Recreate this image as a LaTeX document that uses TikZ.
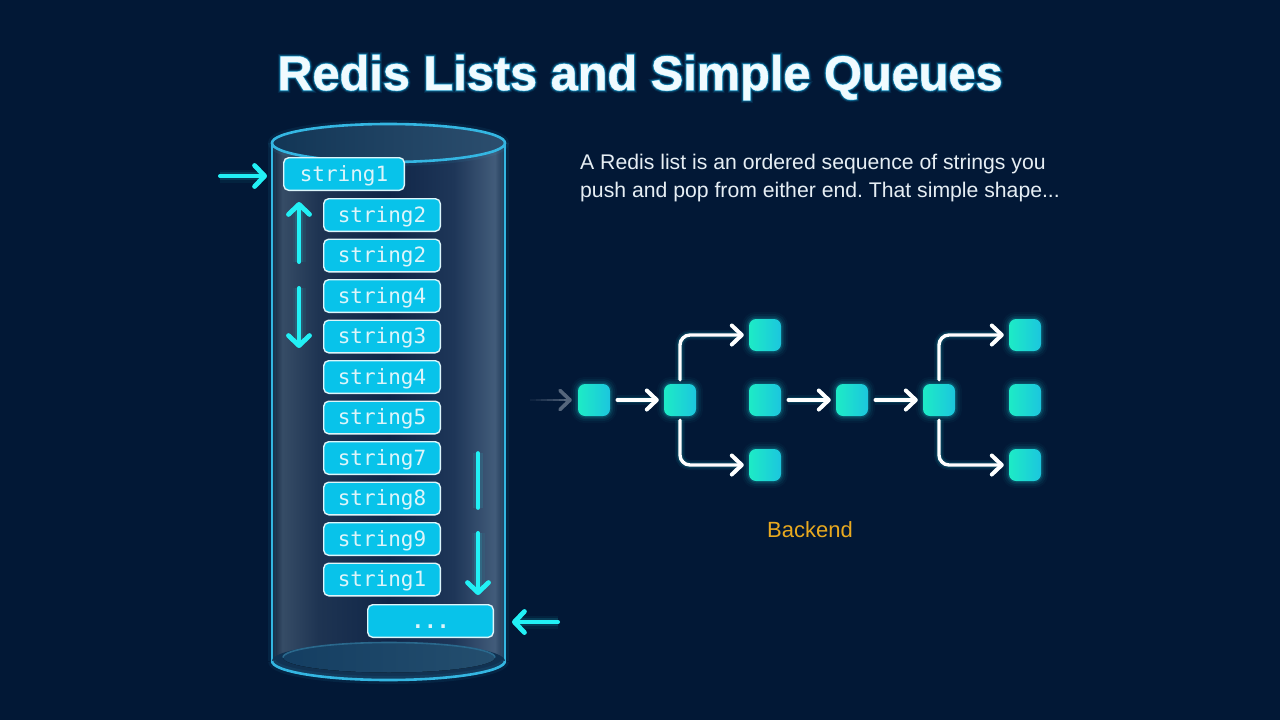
\documentclass[tikz,border=0pt]{standalone}
\usepackage{fontspec}
\setmainfont{Liberation Sans}
\newfontfamily\titlefont{Liberation Sans Bold}[FakeBold=0.2]
\newfontfamily\titleglowa{Liberation Sans Bold}[FakeBold=1.5]
\newfontfamily\titleglowb{Liberation Sans Bold}[FakeBold=3]
\newfontfamily\titleglowc{Liberation Sans Bold}[FakeBold=5]
\newfontfamily\titleglowd{Liberation Sans Bold}[FakeBold=7.5]
\newfontfamily\titleglowe{Liberation Sans Bold}[FakeBold=11]
\newfontfamily\codefont{DejaVu Sans Mono}
\usetikzlibrary{arrows.meta,calc}

\definecolor{pagemid}{HTML}{021836}
\definecolor{cyanline}{HTML}{22F0F5}
\definecolor{glasslip}{HTML}{34B6E2}
\definecolor{cellfill}{HTML}{08C3EA}
\definecolor{cellline}{HTML}{DDF5FA}
\definecolor{nodeleft}{HTML}{1DEBC6}
\definecolor{noderight}{HTML}{1CC6DE}
\definecolor{amberlabel}{HTML}{E9A91F}
\definecolor{bodytext}{HTML}{E6EEF4}
\definecolor{titleglow}{HTML}{18B4E8}
\definecolor{fadegrey}{HTML}{55667C}
\definecolor{glassA}{RGB}{16,34,60}
\definecolor{glassB}{RGB}{54,76,102}
\definecolor{glassC}{RGB}{30,52,82}
\definecolor{glassD}{RGB}{16,38,72}
\definecolor{glassE}{RGB}{30,54,88}
\definecolor{glassF}{RGB}{66,92,122}
\definecolor{glassG}{RGB}{26,52,82}
\definecolor{lidleft}{RGB}{18,54,86}
\definecolor{lidright}{RGB}{44,78,110}
\definecolor{floorfill}{RGB}{17,50,82}
\definecolor{floorline}{RGB}{42,104,140}
\definecolor{floorleft}{RGB}{20,62,98}
\definecolor{floorright}{RGB}{36,78,110}

% Glass cylinder body, lit along both edges
\pgfdeclarehorizontalshading{glassbody}{100bp}{
  color(0bp)=(glassA);
  color(25bp)=(glassA);
  color(27.2bp)=(glassB);
  color(35bp)=(glassC);
  color(50bp)=(glassD);
  color(64bp)=(glassE);
  color(72.8bp)=(glassF);
  color(75bp)=(glassG);
  color(100bp)=(glassG)}

\tikzset{
  x=1pt,y=-1pt,
  cell/.style={draw=cellline,fill=cellfill,line width=1.4pt,rounded corners=5pt,
    minimum height=32.6pt,inner sep=0pt,text=cellline,text height=17pt,text depth=3pt,
    font=\codefont\fontsize{21}{21}\selectfont},
  wide/.style={cell,minimum width=116.6pt},
  flownode/.style={rounded corners=7pt,minimum width=32pt,minimum height=32pt,inner sep=0pt,
    left color=nodeleft,right color=noderight,
    preaction={draw=cyanline,line width=14pt,opacity=.03},
    preaction={draw=cyanline,line width=10pt,opacity=.05},
    preaction={draw=cyanline,line width=6pt,opacity=.08},
    preaction={draw=cyanline,line width=3pt,opacity=.12}},
  cyanarrow/.style={draw=cyanline,line width=4pt,line cap=round,line join=round,
    -{Straight Barb[length=10pt,width=21pt,line width=4.8pt,round]},
    preaction={draw=cyanline,line width=13pt,opacity=.05},
    preaction={draw=cyanline,line width=8pt,opacity=.12}},
  cyanbar/.style={draw=cyanline,line width=3.6pt,line cap=round,
    preaction={draw=cyanline,line width=10pt,opacity=.10}},
  whitearrow/.style={draw=white,line width=3.4pt,line cap=round,line join=round,rounded corners=10pt,
    -{Straight Barb[length=10pt,width=19pt,line width=4pt,round]},
    preaction={draw=cyanline,line width=10pt,opacity=.06},
    preaction={draw=cyanline,line width=6.5pt,opacity=.12}},
  fadetip/.style={draw=fadegrey,line width=3pt,line cap=round,line join=round,
    -{Straight Barb[length=10pt,width=19pt,line width=3.6pt,round]}},
  glasswall/.style={draw=glasslip,line width=2.4pt,
    preaction={draw=glasslip,line width=8pt,opacity=.08}},
  titletext/.style={inner sep=0pt,font=\fontsize{48.7}{48.7}\selectfont},
  bodyline/.style={anchor=base west,inner sep=0pt,text=bodytext,font=\fontsize{21.2}{21.2}\selectfont},
}

\begin{document}
\frenchspacing
\begin{tikzpicture}
\useasboundingbox (0,0) rectangle (1280,720);
\fill[pagemid] (0,0) rectangle (1280,720);

% Title with a layered glow
\node[titletext,text=titleglow,text opacity=.10] at (640,77.5) {\titleglowe Redis Lists and Simple Queues};
\node[titletext,text=titleglow,text opacity=.16] at (640,77.5) {\titleglowd Redis Lists and Simple Queues};
\node[titletext,text=titleglow,text opacity=.26] at (640,77.5) {\titleglowc Redis Lists and Simple Queues};
\node[titletext,text=titleglow,text opacity=.45] at (640,77.5) {\titleglowb Redis Lists and Simple Queues};
\node[titletext,text=cyan!50!white,text opacity=.6] at (640,77.5) {\titleglowa Redis Lists and Simple Queues};
\node[titletext,text=white!94!cyan] (heading) at (640,77.5) {\titlefont Redis Lists and Simple Queues};

% Cylinder
\shade[shading=glassbody] (272,143) rectangle (505,661);
\draw[glasswall] (272,143) -- (272,661);
\draw[glasswall] (505,143) -- (505,661);
\draw[glasswall,line width=2.6pt,left color=lidleft,right color=lidright]
  (388.5,143) ellipse (116.5 and 19);
\fill[floorfill] (388.5,661) ellipse (116.5 and 19);
\fill[left color=floorleft,right color=floorright] (389,657.5) ellipse (106 and 15);
\draw[floorline,line width=1.6pt] (283,657.5) arc[start angle=180,end angle=360,x radius=106,y radius=15];
\draw[glasswall,line width=2.6pt] (272,661) arc[start angle=180,end angle=0,x radius=116.5,y radius=19];

% List cells
\node[cell,minimum width=120.6pt] (head) at (344,174) {string1};
\node[wide] (c1) at (382,215) {string2};
\node[wide] (c2) at (382,255.5) {string2};
\node[wide] (c3) at (382,296) {string4};
\node[wide] (c4) at (382,336.5) {string3};
\node[wide] (c5) at (382,377) {string4};
\node[wide] (c6) at (382,417.5) {string5};
\node[wide] (c7) at (382,458) {string7};
\node[wide] (c8) at (382,498.5) {string8};
\node[wide] (c9) at (382,539) {string9};
\node[wide] (c10) at (382,579.5) {string1};
\node[cell,minimum width=125.6pt,font=\codefont\bfseries\fontsize{21}{21}\selectfont] (tail) at (430.5,621) {...};

% Push and pop arrows around the list
\coordinate (pushfrom) at (220,176);
\coordinate (pushto) at (267,176);
\coordinate (upfrom) at (299,262);
\coordinate (upto) at (299,202);
\coordinate (downfrom) at (299,288);
\coordinate (downto) at (299,348);
\coordinate (barfrom) at (478,453);
\coordinate (barto) at (478,508);
\coordinate (tailfrom) at (478,533);
\coordinate (tailto) at (478,595);
\coordinate (popfrom) at (558,622);
\coordinate (popto) at (512,622);
\draw[cyanarrow] (pushfrom) -- (pushto);
\draw[cyanarrow] (upfrom) -- (upto);
\draw[cyanarrow] (downfrom) -- (downto);
\draw[cyanbar] (barfrom) -- (barto);
\draw[cyanarrow] (tailfrom) -- (tailto);
\draw[cyanarrow] (popfrom) -- (popto);

% Description
\node[bodyline] (line1) at (580,169) {A Redis list is an ordered sequence of strings you};
\node[bodyline] (line2) at (580,197) {push and pop from either end. That simple shape...};

% Routing graph
\node[flownode] (n1) at (594,400) {};
\node[flownode] (n2) at (680,400) {};
\node[flownode] (n3) at (765,335) {};
\node[flownode] (n4) at (765,400) {};
\node[flownode] (n5) at (765,465) {};
\node[flownode] (n6) at (852,400) {};
\node[flownode] (n7) at (939,400) {};
\node[flownode] (n8) at (1025,335) {};
\node[flownode] (n9) at (1025,400) {};
\node[flownode] (n10) at (1025,465) {};
\coordinate (infrom) at (530,400);
% Incoming stroke fades out towards its free end
\foreach \t/\o in {0/.15,.12/.28,.24/.42,.36/.56,.48/.7,.6/.85,.72/1}
  \draw[fadegrey,line width=2.8pt,opacity=\o] ($(infrom)!\t!(n1.west)$) -- ($(infrom)!\t+.12!(n1.west)$);
\draw[fadetip,shorten >=6pt,shorten <=36pt] (infrom) -- (n1.west);
\draw[whitearrow,shorten <=7pt,shorten >=5pt] (n1) -- (n2);
\draw[whitearrow,shorten <=4pt,shorten >=5pt] (n2.north) |- (n3.west);
\draw[whitearrow,shorten <=4pt,shorten >=5pt] (n2.south) |- (n5.west);
\draw[whitearrow,shorten <=7pt,shorten >=5pt] (n4) -- (n6);
\draw[whitearrow,shorten <=7pt,shorten >=5pt] (n6) -- (n7);
\draw[whitearrow,shorten <=4pt,shorten >=5pt] (n7.north) |- (n8.west);
\draw[whitearrow,shorten <=4pt,shorten >=5pt] (n7.south) |- (n10.west);

\node[inner sep=0pt,text=amberlabel,font=\fontsize{22}{22}\selectfont] (backend) at (810,530) {Backend};
\end{tikzpicture}
\end{document}
